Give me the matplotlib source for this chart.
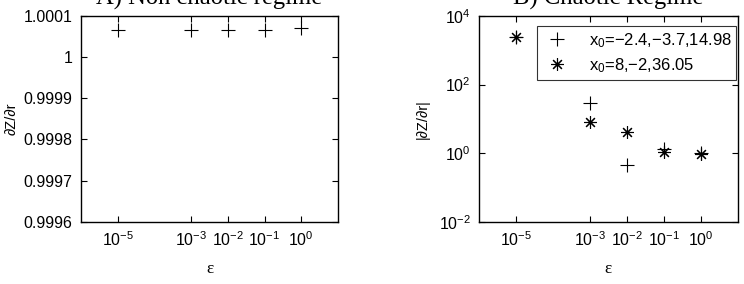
import matplotlib
matplotlib.use("Agg")
import matplotlib.pyplot as plt
from matplotlib.ticker import FixedLocator, NullLocator, FixedFormatter

plt.rcParams['font.family'] = ['Liberation Sans', 'DejaVu Sans']
plt.rcParams['mathtext.fontset'] = 'custom'
plt.rcParams['mathtext.rm'] = 'Liberation Sans'
plt.rcParams['mathtext.it'] = 'Liberation Sans:italic'
plt.rcParams['mathtext.default'] = 'regular'

# Data
eps = [1e-5, 1e-3, 1e-2, 1e-1, 1e0]
dzdr_nonchaotic = [1.0000660, 1.0000660, 1.0000660, 1.0000660, 1.0000720]
dzdr_chaotic_1 = [2400, 28.5, 0.44, 1.35, 1.0]
dzdr_chaotic_2 = [2400, 7.9, 4.0, 1.08, 0.95]
labels_legend = ['x$_0$=\u22122.4,\u22123.7,14.98', 'x$_0$=8,\u22122,36.05']
xtick_vals = [1e-5, 1e-3, 1e-2, 1e-1, 1e0]
xtick_labels = ['10$^{\u22125}$', '10$^{\u22123}$', '10$^{\u22122}$', '10$^{\u22121}$', '10$^{0}$']
ytick_left = [0.9996, 0.9997, 0.9998, 0.9999, 1.0, 1.0001]
ytick_left_labels = ['0.9996', '0.9997', '0.9998', '0.9999', '1', '1.0001']
ytick_right = [1e-2, 1e0, 1e2, 1e4]
ytick_right_labels = ['10$^{\u22122}$', '10$^{0}$', '10$^{2}$', '10$^{4}$']

fig = plt.figure(figsize=(7.44, 2.84), dpi=100)
ax1 = fig.add_axes([0.1089, 0.2194, 0.3454, 0.7243])
ax2 = fig.add_axes([0.6438, 0.2194, 0.3477, 0.7243])

tick_fs = 11.5
for ax in (ax1, ax2):
    ax.set_xscale('log')
    ax.set_xlim(1e-6, 1e1)
    ax.xaxis.set_major_locator(FixedLocator(xtick_vals))
    ax.xaxis.set_major_formatter(FixedFormatter(xtick_labels))
    ax.xaxis.set_minor_locator(NullLocator())
    ax.tick_params(direction='in', top=True, right=True, length=4, width=0.8,
                   labelsize=tick_fs, pad=6)
    ax.tick_params(which='minor', length=0)
    for s in ax.spines.values():
        s.set_linewidth(1.0)
    ax.set_xlabel('\u03b5', family=['Liberation Serif'], fontsize=12.5, labelpad=9)

ax1.plot(eps, dzdr_nonchaotic, '+', color='black', ms=10, mew=0.8)
ax1.set_ylim(0.9996, 1.0001)
ax1.yaxis.set_major_locator(FixedLocator(ytick_left))
ax1.yaxis.set_major_formatter(FixedFormatter(ytick_left_labels))
ax1.set_ylabel('\u2202Z/\u2202r', fontsize=10.5, labelpad=4)
ax1.set_title('A) Non chaotic regime', family=['Liberation Serif'], fontsize=17.7, pad=8)

ax2.set_yscale('log')
ax2.plot(eps, dzdr_chaotic_1, '+', color='black', ms=10, mew=0.8, label=labels_legend[0])
ax2.plot(eps, dzdr_chaotic_2, color='black', linestyle='none', ms=9, mew=0.8,
         marker=(8, 2, 0), label=labels_legend[1])
ax2.set_ylim(1e-2, 1e4)
ax2.yaxis.set_major_locator(FixedLocator(ytick_right))
ax2.yaxis.set_major_formatter(FixedFormatter(ytick_right_labels))
ax2.yaxis.set_minor_locator(NullLocator())
ax2.set_ylabel('|\u2202Z/\u2202r|', fontsize=10.5, labelpad=6)
ax2.set_title('B) Chaotic Regime', family=['Liberation Serif'], fontsize=17.7, pad=8)
leg = ax2.legend(loc='upper right', bbox_to_anchor=(0.995, 0.95), fontsize=12,
                 frameon=True, fancybox=False, edgecolor='black', borderpad=0.3,
                 labelspacing=0.35, handletextpad=1.0, handlelength=1.8,
                 borderaxespad=0.0)
leg.get_frame().set_linewidth(0.8)

fig.savefig('out.png', dpi=100)
